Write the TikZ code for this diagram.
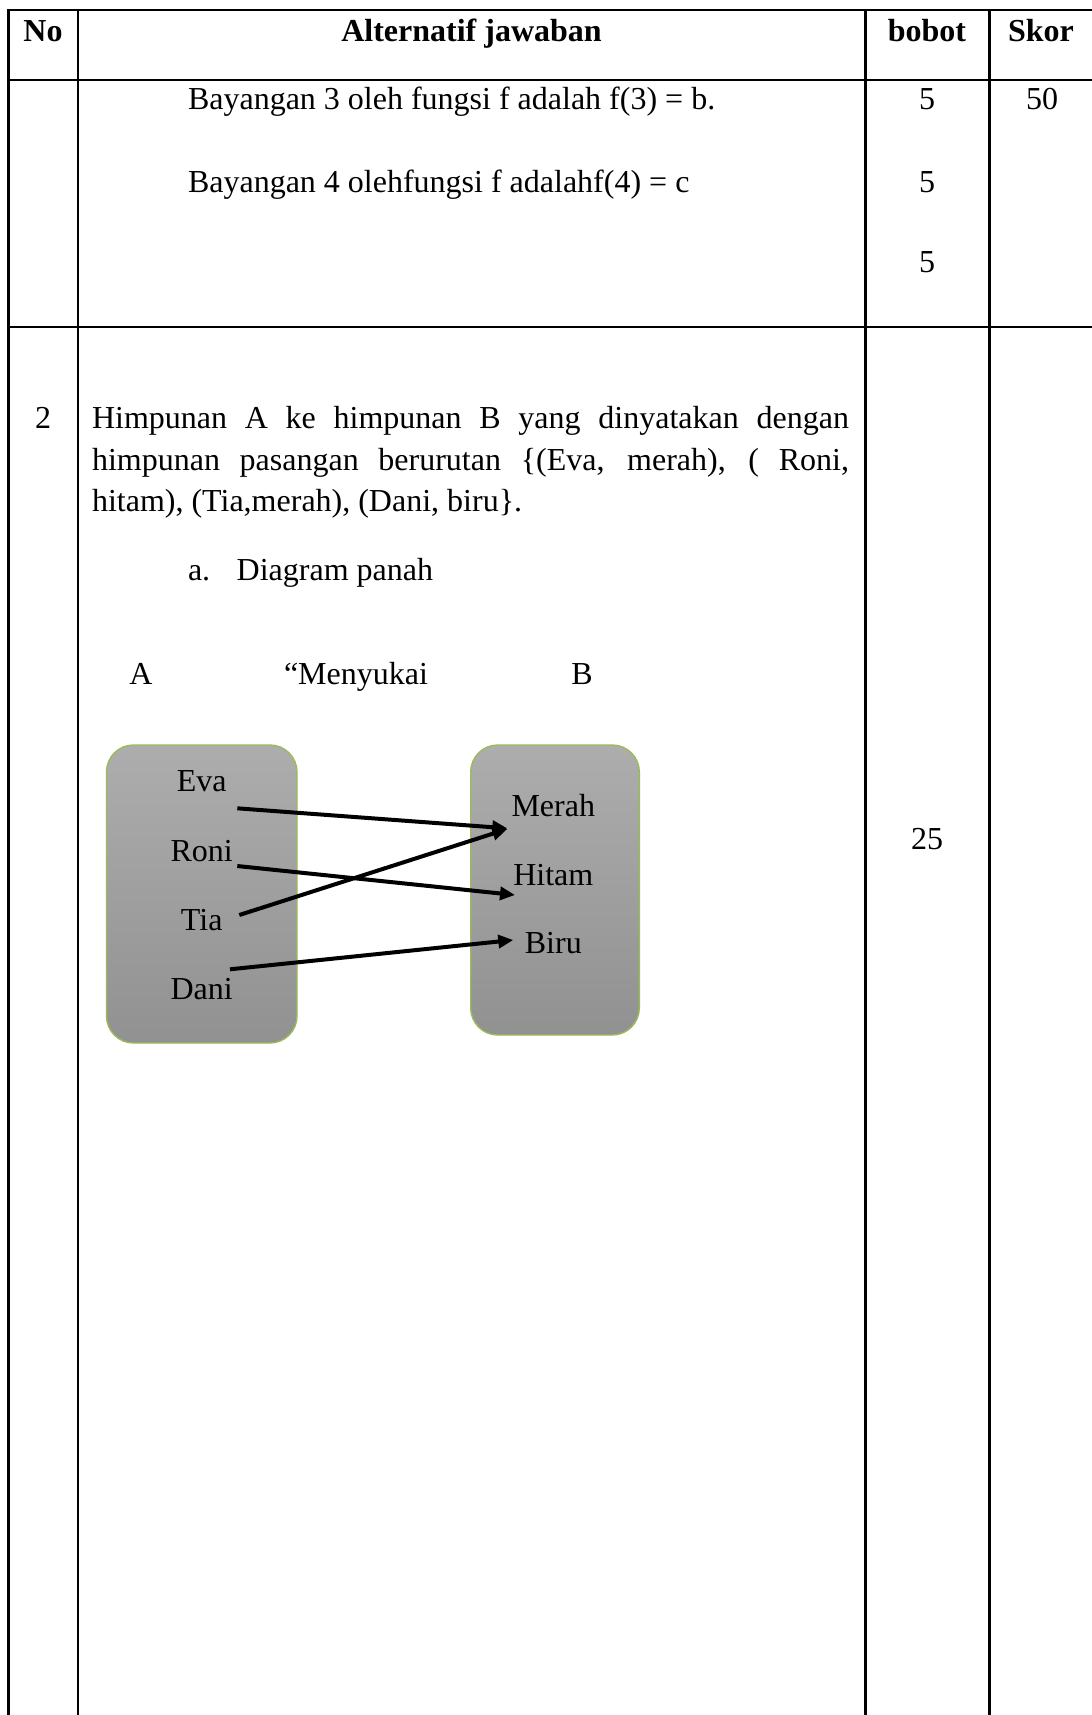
\documentclass[tikz,border=0pt]{standalone}
\usepackage{fontspec}
\setmainfont{Liberation Serif}
\usetikzlibrary{arrows.meta}
\newcommand\myfs{\fontsize{16pt}{20.8pt}\selectfont}
\definecolor{boxtop}{HTML}{ADADAD}
\definecolor{boxbot}{HTML}{919191}
\definecolor{boxedge}{HTML}{9BBB59}
\tikzset{
  txt/.style={inner sep=0pt, outer sep=0pt, font=\myfs},
  hdr/.style={txt, font=\myfs\bfseries, anchor=base},
  grid/.style={line width=1.3pt, black},
  setbox/.style={draw=boxedge, line width=0.7pt, rounded corners=13.5pt,
    top color=boxtop, bottom color=boxbot, inner sep=0pt},
  arr/.style={line width=2pt, -{Triangle[length=7.5pt, width=6.5pt]}}
}
\begin{document}
\begin{tikzpicture}[x=0.5pt, y=-0.5pt]
\useasboundingbox (0,0) rectangle (1092,1715);
% table grid
\draw[grid] (8.5,10) -- (1092,10);
\draw[grid] (8.5,80) -- (1092,80);
\draw[grid] (8.5,327) -- (1092,327);
\draw[grid] (8.5,9.35) -- (8.5,1715);
\draw[grid] (78,9.35) -- (78,1715);
\draw[grid] (865.5,9.35) -- (865.5,1715);
\draw[grid] (989.5,9.35) -- (989.5,1715);
% header
\node[hdr] (hno) at (43,41) {No};
\node[hdr] (halt) at (471.5,41) {Alternatif jawaban};
\node[hdr] (hbob) at (927,41) {bobot};
\node[hdr] (hskor) at (1041,41) {Skor};
% row 1
\node[txt, anchor=base west] (b3) at (188,109) {Bayangan 3 oleh fungsi f adalah f(3) = b.};
\node[txt, anchor=base west] (b4) at (188,192) {Bayangan 4 olehfungsi f adalahf(4) = c};
\node[txt, anchor=base] (w1) at (927,109) {5};
\node[txt, anchor=base] (w2) at (927,192) {5};
\node[txt, anchor=base] (w3) at (927,272) {5};
\node[txt, anchor=base] (s1) at (1042,109) {50};
% row 2
\node[txt, anchor=base] (n2) at (43,428) {2};
\node[txt, anchor=base west] (p1) at (92,428) {\makebox[378.5pt][s]{Himpunan A ke himpunan B yang dinyatakan dengan}};
\node[txt, anchor=base west] (p2) at (92,470) {\makebox[378.5pt][s]{himpunan pasangan berurutan \{(Eva, merah), ( Roni,}};
\node[txt, anchor=base west] (p3) at (92,511) {hitam), (Tia,merah), (Dani, biru\}.};
\node[txt, anchor=base west] (la) at (188,580) {a.};
\node[txt, anchor=base west] (ldiag) at (236.7,580) {Diagram panah};
\node[txt, anchor=base] (ta) at (141,684) {A};
\node[txt, anchor=base west] (tmen) at (284,684) {“Menyukai};
\node[txt, anchor=base] (tb) at (582,684) {B};
\node[txt, anchor=base] (w25) at (927,849) {25};
% sets
\node[setbox, minimum width=95.25pt, minimum height=149pt] (boxA) at (201.75,894) {};
\node[setbox, minimum width=84.3pt, minimum height=145pt] (boxB) at (555,890) {};
\node[txt, anchor=base] (eva) at (201.7,791.7) {Eva};
\node[txt, anchor=base] (roni) at (201.7,861.7) {Roni};
\node[txt, anchor=base] (tia) at (201.7,930) {Tia};
\node[txt, anchor=base] (dani) at (201.7,999.3) {Dani};
\node[txt, anchor=base] (merah) at (553.3,816) {Merah};
\node[txt, anchor=base] (hitam) at (553.3,885) {Hitam};
\node[txt, anchor=base] (biru) at (553.3,953.3) {Biru};
% arrow ends
\coordinate (evaS) at (237.3,808.3);
\coordinate (roniS) at (237.3,866);
\coordinate (tiaS) at (239.3,915);
\coordinate (daniS) at (230,969.3);
\coordinate (merahT) at (507.3,828.3);
\coordinate (merahT2) at (507.3,829);
\coordinate (hitamT) at (515,895);
\coordinate (biruT) at (513.3,940);
\draw[arr] (evaS) -- (merahT);
\draw[arr] (roniS) -- (hitamT);
\draw[arr] (tiaS) -- (merahT2);
\draw[arr] (daniS) -- (biruT);
\end{tikzpicture}
\end{document}
